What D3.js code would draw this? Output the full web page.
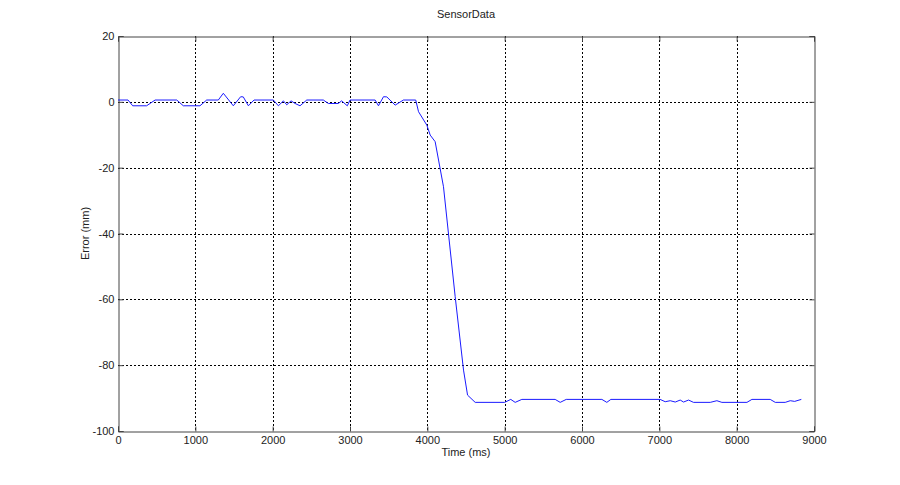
<!DOCTYPE html>
<html><head><meta charset="utf-8">
<script src="https://cdn.jsdelivr.net/npm/d3@7"></script>
<style>body{margin:0;background:#fff}svg{display:block}text{font-family:"Liberation Sans",Arial,sans-serif;}</style>
</head><body>
<svg id="c" width="900" height="485"></svg>
<script>
const title = "SensorData";
const xLabel = "Time (ms)";
const yLabel = "Error (mm)";
const xTicks = [0,1000,2000,3000,4000,5000,6000,7000,8000,9000];
const yTicks = [20,0,-20,-40,-60,-80,-100];
const timeMs = [0,130,190,370,480,760,845,1060,1147,1297,1362,1491,1586,1620,1686,1759,2009,2074,2139,2182,2238,2290,2354,2441,2655,2720,2849,2892,2965,3001,3325,3368,3433,3476,3584,3691,3850,3886,3994,4037,4101,4209,4360,4468,4520,4619,5000,5079,5136,5222,5653,5718,5796,6257,6321,6373,7010,7076,7141,7206,7270,7313,7378,7442,7658,7744,7809,8133,8197,8434,8499,8628,8693,8750,8836];
const errorMm = [0.55,0.55,-1.2,-1.2,0.55,0.55,-1.2,-1.2,0.55,0.55,2.6,-1.2,1.55,1.5,-1.2,0.55,0.55,-1.2,0.3,-0.9,0.3,-0.5,-1.2,0.55,0.55,-0.5,-0.5,0.3,-1.2,0.55,0.55,-1.2,1.55,1.5,-1.0,0.55,0.55,-3.0,-7.1,-10.1,-12.1,-25.8,-59.2,-81.5,-89.1,-91.3,-91.3,-90.4,-91.3,-90.4,-90.4,-91.3,-90.4,-90.4,-91.3,-90.4,-90.4,-91.1,-90.8,-91.2,-90.6,-91.2,-90.6,-91.3,-91.3,-90.8,-91.3,-91.3,-90.4,-90.4,-91.3,-91.3,-90.8,-91.0,-90.4];

const svg = d3.select("#c");
const L=118, T=36, W=696, H=395;
const x = d3.scaleLinear().domain([0,9000]).range([L,L+W]);
const y = d3.scaleLinear().domain([-100,20]).range([T+H,T]);
const axCol = "#444";
const fmt = d => String(d);

// grid
const g = svg.append("g");
g.selectAll(".gx").data(xTicks.slice(1,-1)).join("line")
 .attr("x1",d=>Math.round(x(d))+0.5).attr("x2",d=>Math.round(x(d))+0.5)
 .attr("y1",T).attr("y2",T+H).attr("stroke","#000").attr("stroke-width",1).attr("stroke-dasharray","2,2");
g.selectAll(".gy").data(yTicks.slice(1,-1)).join("line")
 .attr("y1",d=>Math.round(y(d))+0.5).attr("y2",d=>Math.round(y(d))+0.5)
 .attr("x1",L).attr("x2",L+W).attr("stroke","#000").attr("stroke-width",1).attr("stroke-dasharray","2,2");

// axes
const xa = svg.append("g").attr("transform",`translate(0,${T+H+0.5})`)
 .call(d3.axisBottom(x).tickValues(xTicks).tickSize(-5).tickPadding(5).tickFormat(fmt));
const xt = svg.append("g").attr("transform",`translate(0,${T+0.5})`)
 .call(d3.axisTop(x).tickValues(xTicks).tickSize(-5).tickFormat(""));
const ya = svg.append("g").attr("transform",`translate(${L+0.5},0)`)
 .call(d3.axisLeft(y).tickValues(yTicks).tickSize(-5).tickPadding(4).tickFormat(fmt));
const yr = svg.append("g").attr("transform",`translate(${L+W+0.5},0)`)
 .call(d3.axisRight(y).tickValues(yTicks).tickSize(-5).tickFormat(""));
[xa,xt,ya,yr].forEach(a=>{
  a.selectAll("path").attr("stroke",axCol);
  a.selectAll("line").attr("stroke",axCol);
  a.selectAll("text").attr("fill","#222").style("font-size","11px").style("font-family","'Liberation Sans',Arial,sans-serif");
});

// line
const line = d3.line().x((d,i)=>x(timeMs[i])).y(d=>y(d));
svg.append("path").datum(errorMm).attr("d",line).attr("fill","none").attr("stroke","#1a1aff").attr("stroke-width",1);

// labels
svg.append("text").attr("x",L+W/2).attr("y",T-18).attr("text-anchor","middle").style("font-size","11px").attr("fill","#222").text(title);
svg.append("text").attr("x",L+W/2).attr("y",T+H+25).attr("text-anchor","middle").style("font-size","11px").attr("fill","#222").text(xLabel);
svg.append("text").attr("transform",`translate(${L-29},${T+H/2}) rotate(-90)`).attr("text-anchor","middle").style("font-size","11px").attr("fill","#222").text(yLabel);
</script>
</body></html>
